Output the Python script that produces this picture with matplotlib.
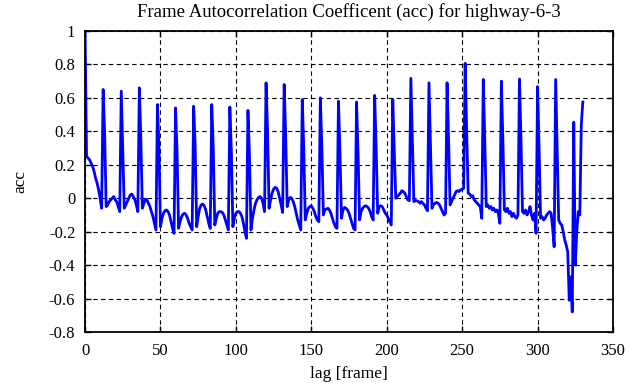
import matplotlib
matplotlib.use('Agg')
import matplotlib.pyplot as plt

plt.rcParams['font.family'] = ['Liberation Serif', 'DejaVu Serif']
plt.rcParams['axes.unicode_minus'] = False

# autocorrelation values, lag 0..330
acc = [
    1.00, 0.25, 0.24, 0.23, 0.21, 0.19, 0.16, 0.12, 0.09, 0.05, 0.00, -0.06,
    0.65, 0.38, -0.05, -0.04, -0.02, -0.01, 0.00, 0.01, -0.01, -0.02, -0.05, -0.08,
    0.64, 0.30, -0.06, -0.04, -0.02, 0.00, 0.02, 0.025, 0.01, -0.01, -0.04, -0.08,
    0.66, 0.35, -0.06, -0.03, -0.005, -0.01, -0.03, -0.05, -0.08, -0.11, -0.15, -0.19,
    0.56, 0.30, -0.17, -0.12, -0.09, -0.075, -0.07, -0.08, -0.10, -0.14, -0.18, -0.21,
    0.54, 0.28, -0.18, -0.14, -0.11, -0.095, -0.09, -0.10, -0.12, -0.15, -0.17, -0.19,
    0.55, 0.32, -0.17, -0.11, -0.06, -0.04, -0.035, -0.045, -0.07, -0.11, -0.15, -0.18,
    0.56, 0.30, -0.16, -0.12, -0.09, -0.08, -0.08, -0.085, -0.10, -0.13, -0.16, -0.19,
    0.545, 0.28, -0.17, -0.12, -0.09, -0.08, -0.08, -0.09, -0.11, -0.15, -0.20, -0.24,
    0.525, 0.25, -0.19, -0.12, -0.07, -0.03, -0.01, 0.005, 0.01, 0.00, -0.03, -0.08,
    0.69, 0.40, -0.06, -0.01, 0.03, 0.055, 0.065, 0.06, 0.04, 0.00, -0.04, -0.085,
    0.68, 0.38, -0.05, -0.01, 0.005, 0.00, -0.02, -0.05, -0.09, -0.13, -0.16, -0.19,
    0.59, 0.30, -0.13, -0.09, -0.06, -0.05, -0.045, -0.06, -0.08, -0.11, -0.13, -0.14,
    0.60, 0.30, -0.10, -0.07, -0.065, -0.06, -0.07, -0.09, -0.12, -0.15, -0.17, -0.18,
    0.58, 0.28, -0.12, -0.07, -0.055, -0.06, -0.07, -0.09, -0.12, -0.15, -0.18, -0.19,
    0.575, 0.27, -0.13, -0.08, -0.06, -0.05, -0.045, -0.05, -0.06, -0.08, -0.11, -0.13,
    0.615, 0.30, -0.09, -0.05, -0.045, -0.05, -0.07, -0.09, -0.10, -0.12, -0.14, -0.16,
    0.59, 0.28, 0.00, 0.01, 0.02, 0.03, 0.045, 0.04, 0.03, 0.01, -0.01, -0.015,
    0.717, 0.35, -0.02, -0.015, -0.015, -0.02, -0.03, -0.02, -0.03, -0.04, -0.06, -0.075,
    0.69, 0.32, -0.06, -0.04, -0.03, -0.025, -0.03, -0.04, -0.06, -0.08, -0.10, -0.09,
    0.69, 0.35, -0.04, -0.02, 0.00, 0.02, 0.04, 0.045, 0.04, 0.05, 0.055, 0.06,
    0.807, 0.40, 0.03, 0.025, 0.01, 0.015, -0.01, -0.02, -0.03, -0.04, -0.05, -0.12,
    0.71, 0.35, -0.05, -0.04, -0.06, -0.05, -0.07, -0.06, -0.08, -0.07, -0.09, -0.15,
    0.70, 0.35, -0.07, -0.08, -0.06, -0.09, -0.08, -0.11, -0.09, -0.11, -0.12, -0.10,
    0.713, 0.35, -0.08, -0.09, -0.07, -0.10, -0.08, -0.05, -0.10, -0.13, -0.09, -0.21,
    0.667, 0.30, -0.12, -0.11, -0.13, -0.12, -0.10, -0.09, -0.08, -0.09, -0.18, -0.29,
    0.71, 0.30, -0.13, -0.15, -0.16, -0.20, -0.25, -0.28, -0.32, -0.61, -0.47, -0.68,
    0.455, -0.40, -0.20, -0.08, -0.10, 0.44, 0.575,
]
lags = list(range(len(acc)))

xticks = [0, 50, 100, 150, 200, 250, 300, 350]
yticks = [-0.8, -0.6, -0.4, -0.2, 0, 0.2, 0.4, 0.6, 0.8, 1]
ytick_labels = ['-0.8', '-0.6', '-0.4', '-0.2', '0', '0.2', '0.4', '0.6', '0.8', '1']

fig = plt.figure(figsize=(6.3, 3.87), dpi=100)
ax = fig.add_axes([0.135, 0.142, 0.838, 0.778])

ax.plot(lags, acc, color='#0000ff', linewidth=2.0)

ax.set_xlim(0, 350)
ax.set_ylim(-0.8, 1)
ax.set_xticks(xticks)
ax.set_yticks(yticks)
ax.set_yticklabels(ytick_labels)
ax.tick_params(direction='in', top=True, right=True, labelsize=12, length=4, width=1)
ax.tick_params(axis='x', pad=8)
ax.tick_params(axis='y', pad=7)
ax.grid(True, color='black', linestyle=(0, (4, 3)), linewidth=0.8)
for s in ax.spines.values():
    s.set_linewidth(1.3)

ax.set_xlabel('lag [frame]', fontsize=12.5, labelpad=5)
ax.set_ylabel('acc', fontsize=12.5, labelpad=15)
ax.set_title('Frame Autocorrelation Coefficent (acc) for highway-6-3', fontsize=13.5, pad=10)

fig.savefig('out.png', dpi=100)
